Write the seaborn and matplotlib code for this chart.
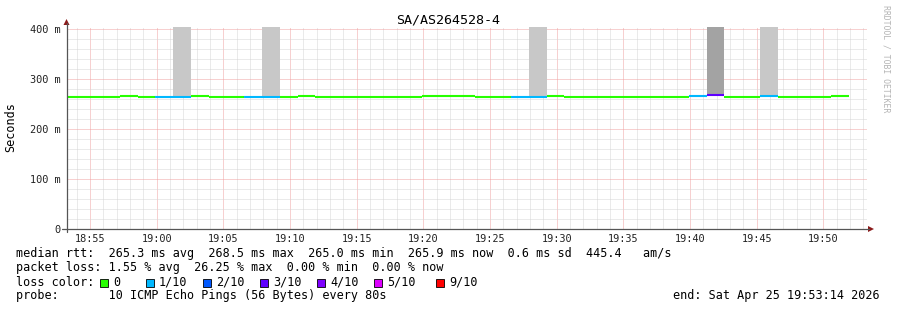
import numpy as np
import pandas as pd
import matplotlib
matplotlib.use("Agg")
import matplotlib.pyplot as plt
import seaborn as sns
from matplotlib.patches import Polygon, Rectangle
from matplotlib.lines import Line2D

# ---------------- data ----------------
title = "SA/AS264528-4"
start_s = 18 * 3600 + 53 * 60 + 14      # 18:53:14
end_s = start_s + 3600                  # 19:53:14
step_s = 80

median_ms = [265.0, 265.0, 265.0, 266.6, 265.0, 265.0, 265.0, 266.6, 265.0, 265.0,
             265.0, 265.0, 265.0, 266.6, 265.0, 265.0, 265.0, 265.0, 265.0, 265.0,
             266.3, 266.3, 266.3, 265.0, 265.0, 265.0, 265.0, 266.6, 265.0, 265.0,
             265.0, 265.0, 265.0, 265.0, 265.0, 266.5, 268.5, 265.0, 265.0, 265.3,
             265.0, 265.0, 265.0, 265.9]
loss_pings = [0, 0, 0, 0, 0, 1, 1, 0, 0, 0,
              1, 1, 0, 0, 0, 0, 0, 0, 0, 0,
              0, 0, 0, 0, 0, 1, 1, 0, 0, 0,
              0, 0, 0, 0, 0, 1, 3, 0, 0, 1,
              0, 0, 0, 0]
smoke_steps = [6, 11, 26, 36, 39, 43]
smoke_lo = [265.0, 265.0, 265.0, 268.5, 265.3, 265.9]
smoke_hi = [500.0, 500.0, 500.0, 500.0, 500.0, 267.8]

y_ticks = [0, 100, 200, 300, 400]
y_tick_labels = ["0", "100 m", "200 m", "300 m", "400 m"]
x_tick_labels = ["18:55", "19:00", "19:05", "19:10", "19:15", "19:20",
                 "19:25", "19:30", "19:35", "19:40", "19:45", "19:50"]

loss_levels = ["0", "1/10", "2/10", "3/10", "4/10", "5/10", "9/10"]
loss_level_pings = [0, 1, 2, 3, 4, 5, 9]
loss_level_colors = ["#26ff00", "#00b8ff", "#0059ff", "#5e00ff", "#7e00ff", "#dd00ff", "#ff0000"]

rtt_line = "median rtt:  265.3 ms avg  268.5 ms max  265.0 ms min  265.9 ms now  0.6 ms sd  445.4   am/s"
loss_line = "packet loss: 1.55 % avg  26.25 % max  0.00 % min  0.00 % now"
probe_line = "probe:       10 ICMP Echo Pings (56 Bytes) every 80s"
end_line = "end: Sat Apr 25 19:53:14 2026"

# ---------------- figure ----------------
sns.set_theme(style="white")
plt.rcParams["font.family"] = ["DejaVu Sans Mono", "DejaVu Sans"]

W, H = 897, 310
fig = plt.figure(figsize=(W / 100, H / 100), dpi=100, facecolor="white")

def fx(px):
    return px / W

def fy(py):
    return 1 - py / H

x0_px, x1_px = 66.5, 866.5
y0_px, y1_px = 229.0, 27.0
ax = fig.add_axes([fx(x0_px), fy(y0_px), fx(x1_px - x0_px), (y0_px - y1_px) / H])
ax.set_facecolor("white")
ax.set_xlim(start_s, end_s)
ax.set_ylim(0, 404)

# smoke
lvl_color = dict(zip(loss_level_pings, loss_level_colors))
for s, lo, hi in zip(smoke_steps, smoke_lo, smoke_hi):
    shade = "#a3a3a3" if loss_pings[s] >= 3 else "#c8c8c8"
    ax.bar(start_s + s * step_s, hi - lo, bottom=lo, width=step_s, align="edge",
           color=shade, linewidth=0, zorder=2)

# median line coloured by loss
rows = []
for i, (m, l) in enumerate(zip(median_ms, loss_pings)):
    t = start_s + i * step_s
    rows.append({"t": t, "ms": m, "seg": i})
    rows.append({"t": t + step_s, "ms": m, "seg": i})
df = pd.DataFrame(rows)
palette = {i: lvl_color[l] for i, l in enumerate(loss_pings)}
sns.lineplot(data=df, x="t", y="ms", hue="seg", palette=palette, legend=False,
             estimator=None, linewidth=1.5, ax=ax, zorder=3, solid_capstyle="butt")
ax.set_xlabel("")
ax.set_ylabel("")

# ticks & grid
first_major = 18 * 3600 + 55 * 60
major_x = [first_major + k * 300 for k in range(len(x_tick_labels))]
minor_x = [t for t in range(18 * 3600 + 54 * 60, end_s, 60) if t not in major_x]
ax.set_xticks(major_x)
ax.set_xticklabels(x_tick_labels)
ax.set_xticks(minor_x, minor=True)
ax.set_yticks(y_ticks)
ax.set_yticklabels(y_tick_labels)
ax.set_yticks([v for v in range(0, 401, 20) if v not in y_ticks], minor=True)
ax.tick_params(which="both", direction="inout", length=3, width=0.7, color="#888888",
               labelsize=7.4, labelcolor="#222222")
ax.tick_params(axis="x", which="major", pad=2)
ax.tick_params(axis="y", which="major", pad=3)
ax.set_axisbelow(True)
ax.grid(True, which="minor", color="#d6d6d6", linestyle=(0, (1, 1)), linewidth=0.72)
ax.grid(True, which="major", color="#f0a2a2", linestyle=(0, (1, 1)), linewidth=0.72)
for sp in ax.spines.values():
    sp.set_visible(False)

# axis lines with arrows
fig.add_artist(Line2D([fx(66.5), fx(66.5)], [fy(232), fy(23)], color="#555555", lw=0.9))
fig.add_artist(Line2D([fx(62), fx(869)], [fy(229), fy(229)], color="#555555", lw=0.9))
fig.add_artist(Polygon([[fx(63.5), fy(25)], [fx(69.5), fy(25)], [fx(66.5), fy(19)]],
                       closed=True, color="#8b1a1a", lw=0))
fig.add_artist(Polygon([[fx(868), fy(226)], [fx(868), fy(232)], [fx(874), fy(229)]],
                       closed=True, color="#8b1a1a", lw=0))

# texts
fig.text(fx(448), fy(20), title, ha="center", va="center", fontsize=9.6, color="black")
fig.text(fx(11), fy(127), "Seconds", ha="center", va="center", rotation=90,
         fontsize=8.5, color="black")
fig.text(fx(886), fy(59), "RRDTOOL / TOBI OETIKER", ha="center", va="center",
         rotation=270, fontsize=5.9, color="#b4b4b4")

fs = 8.5
fig.text(fx(16), fy(254), rtt_line, ha="left", va="center", fontsize=fs, color="black")
fig.text(fx(16), fy(268), loss_line, ha="left", va="center", fontsize=fs, color="black")
fig.text(fx(16), fy(282), "loss color:", ha="left", va="center", fontsize=fs, color="black")
box_lefts = [100, 146, 203, 260, 317, 374, 436]
for bl, lab, col in zip(box_lefts, loss_levels, loss_level_colors):
    fig.add_artist(Rectangle((fx(bl), fy(286.5)), fx(8), 8 / H, facecolor=col,
                             edgecolor="black", lw=0.6))
    fig.text(fx(bl + 13), fy(282), lab, ha="left", va="center", fontsize=fs, color="black")
fig.text(fx(16), fy(296), probe_line, ha="left", va="center", fontsize=fs, color="black")
fig.text(fx(880), fy(296), end_line, ha="right", va="center", fontsize=fs, color="black")

fig.savefig("out.png", dpi=100, facecolor="white")
